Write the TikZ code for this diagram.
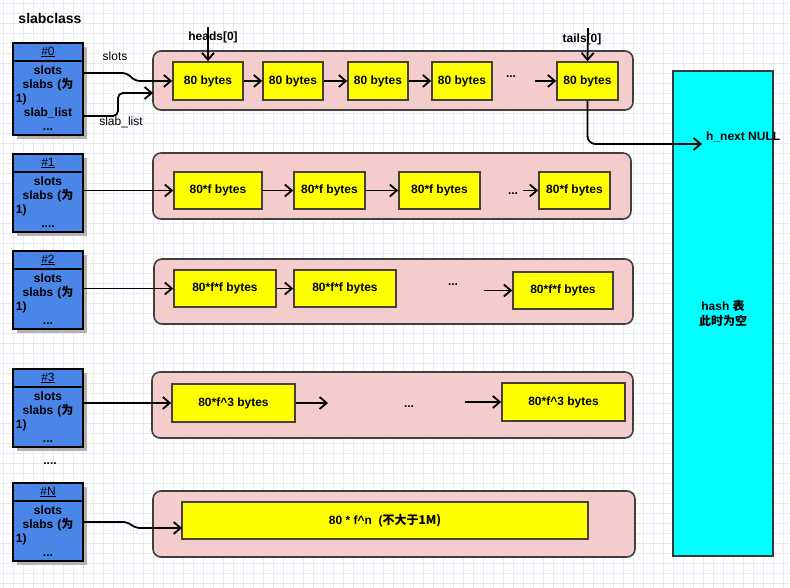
\documentclass[tikz,border=0pt]{standalone}
\usepackage{fontspec}
\setmainfont{Liberation Sans}
\newfontfamily\cjk{Noto Sans CJK SC}
\usepackage{tikz}
\usetikzlibrary{positioning,shadows,arrows.meta}
\definecolor{gridcol}{RGB}{233,233,243}
\definecolor{slabblue}{RGB}{74,134,232}
\definecolor{chunkpink}{RGB}{244,204,204}
\definecolor{itemyellow}{RGB}{255,255,0}
\definecolor{hashcyan}{RGB}{0,255,255}
\newcommand{\wei}{{\cjk 为}}

\begin{document}
\begin{tikzpicture}[x=1pt,y=-1pt]
\tikzstyle{gridline}=[gridcol, line width=0.6pt]
\tikzstyle{head}=[rectangle, minimum width=70pt, minimum height=18pt, inner sep=0pt, line width=1.6pt, draw=black, fill=slabblue, font=\fontsize{12}{14}\selectfont, drop shadow={shadow xshift=4pt, shadow yshift=-4pt, fill=black!30, opacity=1}]
\tikzstyle{body}=[head, text width=64pt, inner sep=3pt, align=center, font=\bfseries\fontsize{12}{14}\selectfont]
\tikzstyle{chunk}=[rectangle, rounded corners=8pt, line width=1.6pt, draw=black!75, fill=chunkpink]
\tikzstyle{item}=[rectangle, minimum height=38pt, inner sep=0pt, line width=1.6pt, draw=black!75!yellow!60!black, fill=itemyellow, font=\bfseries\fontsize{12}{14}\selectfont]
\tikzstyle{txt}=[inner sep=0pt, font=\bfseries\fontsize{12}{14}\selectfont]
\tikzstyle{plain}=[inner sep=0pt, font=\fontsize{12}{14}\selectfont]
\tikzstyle{connect}=[-{Straight Barb[length=7pt,width=12pt]}, line width=1.8pt]
\useasboundingbox (0,0) rectangle (790,588);
\foreach \x in {3,13,...,783} \draw[gridline] (\x,0) -- (\x,588);
\foreach \y in {3,13,...,583} \draw[gridline] (0,\y) -- (790,\y);

	% slabclass
	\node[txt, font=\bfseries\fontsize{14}{16}\selectfont] (title) at (50,18) {slabclass};
	\node[head] (h0) at (48,52) {\underline{\#0}};
	\node[body, minimum height=74pt] (s0) at (48,98) {slots\\slabs (\wei\\\makebox[64pt][l]{1)}\\slab\_list\\...};
	\node[head] (h1) at (48,163) {\underline{\#1}};
	\node[body, minimum height=60pt] (s1) at (48,202) {slots\\slabs (\wei\\\makebox[64pt][l]{1)}\\....};
	\node[head] (h2) at (48,260) {\underline{\#2}};
	\node[body, minimum height=60pt] (s2) at (48,299) {slots\\slabs (\wei\\\makebox[64pt][l]{1)}\\...};
	\node[head] (h3) at (48,378) {\underline{\#3}};
	\node[body, minimum height=60pt] (s3) at (48,417) {slots\\slabs (\wei\\\makebox[64pt][l]{1)}\\...};
	\node[txt, anchor=base] (more) at (50,464) {....};
	\node[head] (hN) at (48,492) {\underline{\#N}};
	\node[body, minimum height=60pt] (sN) at (48,531) {slots\\slabs (\wei\\\makebox[64pt][l]{1)}\\...};

	% slabs
	\node[chunk, minimum width=480pt, minimum height=59pt] (c0) at (393,80.5) {};
	\node[chunk, minimum width=478pt, minimum height=66pt] (c1) at (392,186) {};
	\node[chunk, minimum width=479pt, minimum height=65pt] (c2) at (393.5,291.5) {};
	\node[chunk, minimum width=481pt, minimum height=66pt] (c3) at (392.5,405) {};
	\node[chunk, minimum width=482pt, minimum height=66pt] (cN) at (394,524) {};

	% hash table
	\node[rectangle, minimum width=100pt, minimum height=485pt, line width=1.6pt, draw=black!70!cyan!40!black, fill=hashcyan, align=center, font=\bfseries\fontsize{12}{15}\selectfont] (hash) at (723,313.5) {hash {\cjk 表}\\{\cjk 此时为空}};

	% items
	\node[item, minimum width=70pt] (b01) at (208,81) {80 bytes};
	\node[item, minimum width=60pt] (b02) at (293,81) {80 bytes};
	\node[item, minimum width=60pt] (b03) at (378,81) {80 bytes};
	\node[item, minimum width=60pt] (b04) at (462,81) {80 bytes};
	\node[txt, anchor=base] (d0) at (511,78) {...};
	\node[item, minimum width=61pt] (b05) at (587.5,81) {80 bytes};

	\node[item, minimum width=88pt, minimum height=37pt] (b11) at (218,190.5) {80*f bytes};
	\node[item, minimum width=71pt, minimum height=37pt] (b12) at (329.5,190.5) {80*f bytes};
	\node[item, minimum width=81pt, minimum height=37pt] (b13) at (439.5,190.5) {80*f bytes};
	\node[txt, anchor=base] (d1) at (513,195) {...};
	\node[item, minimum width=71pt, minimum height=37pt] (b14) at (574.5,190.5) {80*f bytes};

	\node[item, minimum width=102pt, minimum height=37pt] (b21) at (225,288.5) {80*f*f bytes};
	\node[item, minimum width=102pt, minimum height=37pt] (b22) at (345,288.5) {80*f*f bytes};
	\node[txt, anchor=base] (d2) at (453,286) {...};
	\node[item, minimum width=100pt, minimum height=37pt] (b23) at (563,290.5) {80*f*f bytes};

	\node[item, minimum width=123pt] (b31) at (233.5,403) {80*f\^{}3 bytes};
	\node[txt, anchor=base] (d3) at (409,407) {...};
	\node[item, minimum width=123pt] (b32) at (563.5,402) {80*f\^{}3 bytes};

	\node[item, minimum width=406pt, minimum height=37pt] (bN) at (385,520.5) {80 * f\^{}n \ (\cjk{不大于}1M)};

	% labels
	\node[plain] (lslots) at (115,56) {slots};
	\node[plain] (llist) at (121,122) {slab\_list};
	\node[txt] (lheads) at (213,37) {heads[0]};
	\node[txt] (ltails) at (582,39) {tails[0]};
	\node[txt, anchor=west] (lnull) at (706,137) {h\_next NULL};

	\coordinate (slotsout) at (83,73);
	\coordinate (listout) at (83,116);
	\coordinate (listin) at (153,93);
	\coordinate (headsrc) at (208,27);
	\coordinate (tailsrc) at (588,28);
	\coordinate (nullpt) at (702,144);
	\coordinate (a0) at (535,81);
	\coordinate (a1) at (523,190.5);
	\coordinate (a2) at (484,290.5);
	\coordinate (a3) at (328,403);
	\coordinate (a4) at (465,402);
	\coordinate (Nout) at (83,522);
	\coordinate (Nin) at (182,528);

	\draw[connect, rounded corners=5pt] (slotsout) -- (127,73) -- (135,81) -- (b01.west);
	\draw[connect, rounded corners=5pt] (listout) -| (118,93) -- (listin);
	\draw[connect] (headsrc) -- (b01.north);
	\draw[connect] (tailsrc) -- (b05.north);
	\draw[connect, rounded corners=8pt] (b05.south) |- (nullpt);
	\path[connect]
		(b01) edge (b02)
		(b02) edge (b03)
		(b03) edge (b04)
		(a0) edge (b05);

	\draw[connect] (s1.east |- b11.west) -- (b11.west);
	\path[connect]
		(b11) edge (b12)
		(b12) edge (b13)
		(a1) edge (b14);

	\draw[connect] (s2.east |- b21.west) -- (b21.west);
	\path[connect]
		(b21) edge (b22)
		(a2) edge (b23);

	\draw[connect] (s3.east |- b31.west) -- (b31.west);
	\draw[connect] (b31.east) -- (a3);
	\draw[connect] (a4) -- (b32.west);

	\draw[connect, rounded corners=5pt] (Nout) -- (128,522) -- (135,528) -- (Nin);
\end{tikzpicture}
\end{document}
